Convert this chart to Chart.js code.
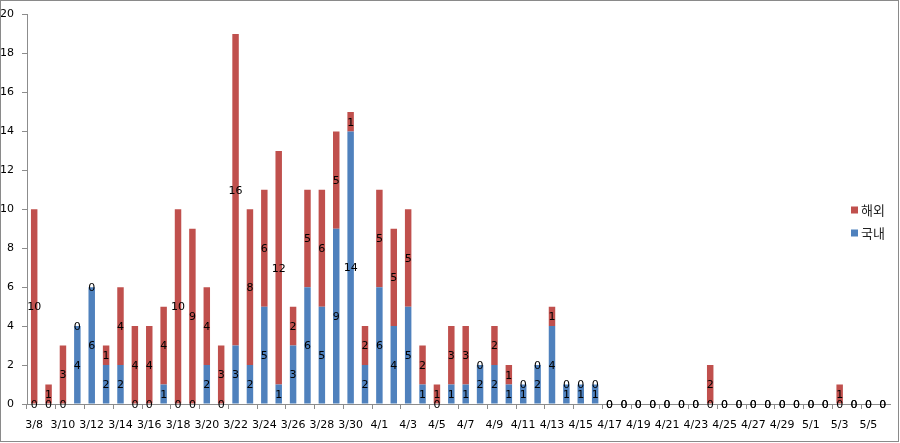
<!DOCTYPE html>
<html>
<head>
<meta charset="utf-8">
<script src="https://cdn.jsdelivr.net/npm/chart.js@4"></script>
<style>
  html, body { margin: 0; padding: 0; background: #fff; }
  #wrap { position: relative; width: 900px; height: 443px; }
</style>
</head>
<body>
<div id="wrap"><canvas id="c"></canvas></div>
<script>
const categories = [
  '3/8','3/9','3/10','3/11','3/12','3/13','3/14','3/15','3/16','3/17','3/18','3/19','3/20','3/21','3/22','3/23','3/24','3/25','3/26','3/27','3/28','3/29','3/30','3/31',
  '4/1','4/2','4/3','4/4','4/5','4/6','4/7','4/8','4/9','4/10','4/11','4/12','4/13','4/14','4/15','4/16','4/17','4/18','4/19','4/20','4/21','4/22','4/23','4/24','4/25','4/26','4/27','4/28','4/29','4/30',
  '5/1','5/2','5/3','5/4','5/5','5/6'
];
const domestic = [
  0,0,0,4,6,2,2,0,0,1,0,0,2,0,3,2,5,1,3,6,5,9,14,2,
  6,4,5,1,0,1,1,2,2,1,1,2,4,1,1,1,0,0,0,0,0,0,0,0,0,0,0,0,0,0,
  0,0,0,0,0,0
];
const overseas = [
  10,1,3,0,0,1,4,4,4,4,10,9,4,3,16,8,6,12,2,5,6,5,1,2,
  5,5,5,2,1,3,3,0,2,1,0,0,1,0,0,0,0,0,0,0,0,0,0,2,0,0,0,0,0,0,
  0,0,1,0,0,0
];
const seriesNames = ['국내', '해외'];
const yTicks = { min: 0, max: 20, step: 2 };

const FONT = '"DejaVu Sans", Verdana, sans-serif';
const AXIS = '#8c8c8c';

const valueLabels = {
  id: 'valueLabels',
  afterDatasetsDraw(chart) {
    const ctx = chart.ctx;
    ctx.save();
    ctx.font = '11px ' + FONT;
    ctx.fillStyle = '#000';
    ctx.textAlign = 'center';
    ctx.textBaseline = 'middle';
    chart.data.datasets.forEach((ds, di) => {
      const meta = chart.getDatasetMeta(di);
      meta.data.forEach((el, i) => {
        const p = el.getProps(['x', 'y', 'base'], true);
        ctx.fillText(String(ds.data[i]), p.x, (p.y + p.base) / 2 + 1);
      });
    });
    ctx.restore();
  }
};

const sideLegend = {
  id: 'sideLegend',
  afterDraw(chart) {
    const ctx = chart.ctx;
    ctx.save();
    ctx.font = '13px "Noto Sans CJK KR", sans-serif';
    ctx.textBaseline = 'middle';
    ctx.textAlign = 'left';
    const items = chart.data.datasets.map((d) => d).reverse();
    items.forEach((d, k) => {
      const cy = 210 + k * 23;
      ctx.fillStyle = d.backgroundColor;
      ctx.fillRect(851, cy - 3.5, 7, 7);
      ctx.fillStyle = '#222';
      ctx.fillText(d.label, 861, cy);
    });
    ctx.restore();
  }
};

const frame = {
  id: 'frame',
  afterDraw(chart) {
    const ctx = chart.ctx;
    ctx.save();
    ctx.strokeStyle = '#8a8a8a';
    ctx.lineWidth = 1;
    ctx.strokeRect(0.5, 0.5, 898, 441);
    ctx.restore();
  }
};

new Chart(document.getElementById('c'), {
  type: 'bar',
  data: {
    labels: categories,
    datasets: [
      { label: seriesNames[0], data: domestic, backgroundColor: '#4F81BD', barPercentage: 0.9, categoryPercentage: 0.5 },
      { label: seriesNames[1], data: overseas, backgroundColor: '#C0504D', barPercentage: 0.9, categoryPercentage: 0.5 }
    ]
  },
  options: {
    responsive: true,
    maintainAspectRatio: false,
    animation: false,
    layout: { padding: { top: 13, right: 10, bottom: 0, left: 0 } },
    plugins: { legend: { display: false }, tooltip: { enabled: false } },
    scales: {
      x: {
        stacked: true,
        afterFit(scale) { scale.height = 39; },
        border: { color: AXIS, width: 1 },
        grid: {
          offset: true,
          drawOnChartArea: false,
          drawTicks: true,
          tickLength: 5,
          color: (c) => (c.index % 2 === 0 ? AXIS : 'rgba(0,0,0,0)')
        },
        ticks: {
          autoSkip: false,
          maxRotation: 0,
          minRotation: 0,
          padding: 10,
          color: '#000',
          font: { family: FONT, size: 11 },
          callback: function (v, i) { return i % 2 === 0 ? categories[i] : ''; }
        }
      },
      y: {
        stacked: true,
        min: yTicks.min,
        max: yTicks.max,
        afterFit(scale) { scale.width = 27; },
        border: { color: AXIS, width: 1 },
        grid: { drawOnChartArea: false, drawTicks: true, tickLength: 5, color: AXIS },
        ticks: {
          stepSize: yTicks.step,
          padding: 8,
          color: '#000',
          font: { family: FONT, size: 11 }
        }
      }
    }
  },
  plugins: [valueLabels, sideLegend, frame]
});
</script>
</body>
</html>
